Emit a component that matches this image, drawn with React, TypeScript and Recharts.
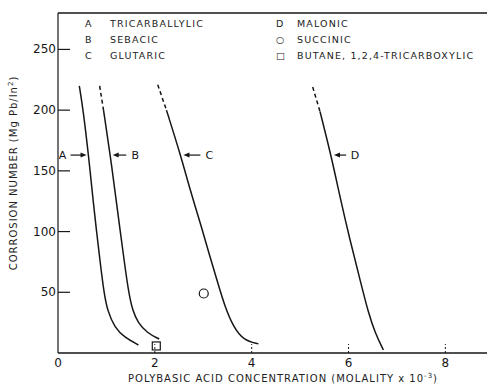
import React from "react";
import {
  ComposedChart,
  Line,
  Scatter,
  XAxis,
  YAxis,
  ReferenceLine,
} from "recharts";

// curve A – tricarballylic
const concA = [0.44, 0.52, 0.63, 0.74, 0.8, 0.87, 0.95, 1.02, 1.17, 1.37, 1.66];
const corrA = [220, 200, 163, 120, 99, 75, 49.5, 35, 21, 13, 6.6];
// curve B – sebacic
const concB = [0.86, 0.94, 1.08, 1.22, 1.29, 1.37, 1.46, 1.54, 1.65, 1.84, 2.09];
const corrB = [220, 200, 163, 120, 99, 75, 49.5, 35, 25, 16.5, 11.5];
// curve C – glutaric
const concC = [2.06, 2.24, 2.54, 2.73, 2.94, 3.14, 3.32, 3.45, 3.62, 3.83, 4.14];
const corrC = [221, 200, 162, 134, 107, 79, 55, 38, 21.7, 10.5, 7.5];
// curve D – malonic
const concD = [5.26, 5.41, 5.65, 5.82, 6.03, 6.24, 6.41, 6.55, 6.72];
const corrD = [219, 199, 161, 129, 93, 60, 33, 16.5, 2.5];

// single points
const succinic = [{ x: 3.01, y: 49 }];
const butane = [{ x: 2.03, y: 5.8 }];

const xTicks = [0, 2, 4, 6, 8];
const yTicks = [50, 100, 150, 200, 250];

// curve labels with arrows
const arrowLabels = ["A", "B", "C", "D"];
const arrowTip = [0.59, 1.13, 2.59, 5.7];
const arrowTail = [0.26, 1.41, 2.94, 5.95];
const arrowY = [163, 163, 163, 163];

const legendLeft = [
  ["A", "TRICARBALLYLIC"],
  ["B", "SEBACIC"],
  ["C", "GLUTARIC"],
];
const legendRight = [
  ["D", "MALONIC"],
  ["○", "SUCCINIC"],
  ["□", "BUTANE, 1,2,4-TRICARBOXYLIC"],
];

const INK = "#161616";
const FONT = "'DejaVu Sans', sans-serif";

const toPts = (xs: number[], ys: number[]) => xs.map((x, i) => ({ x, y: ys[i] }));

// first n points of a curve are drawn dashed
const split = (xs: number[], ys: number[], n: number) => {
  const pts = toPts(xs, ys);
  return { top: pts.slice(0, n), rest: pts.slice(n - 1) };
};

const A = split(concA, corrA, 1);
const B = split(concB, corrB, 2);
const C = split(concC, corrC, 2);
const D = split(concD, corrD, 2);

const XTick = (props: any) => {
  const { x, y, payload } = props;
  return (
    <g>
      {payload.value !== 0 && (
        <line x1={x} x2={x} y1={y} y2={y - 9} stroke={INK} strokeDasharray="2 2" strokeWidth={1} />
      )}
      <text x={x} y={y + 14} textAnchor="middle" fontSize={12} fill={INK} fontFamily={FONT}>
        {payload.value}
      </text>
    </g>
  );
};

const YTick = (props: any) => {
  const { x, y, payload } = props;
  return (
    <g>
      <line x1={x} x2={x + 12} y1={y} y2={y} stroke={INK} strokeWidth={1.2} />
      <text x={x - 2} y={y + 4} textAnchor="end" fontSize={12} fill={INK} fontFamily={FONT}>
        {payload.value}
      </text>
    </g>
  );
};

const Hollow = (props: any) => (
  <circle cx={props.cx} cy={props.cy} r={4.5} fill="none" stroke={INK} strokeWidth={1.2} />
);
const Box = (props: any) => (
  <rect x={props.cx - 4} y={props.cy - 4} width={8} height={8} fill="none" stroke={INK} strokeWidth={1.2} />
);

const arrowShape = (i: number) => (props: any) => {
  const { x1, y1, x2, y2 } = props;
  const dir = x2 > x1 ? 1 : -1;
  const label = arrowLabels[i];
  const labelX = i === 0 ? x1 - 8 : x1 + 9;
  return (
    <g>
      <line x1={x1} y1={y1} x2={x2 - dir * 4} y2={y2} stroke={INK} strokeWidth={1.2} />
      <path
        d={`M${x2},${y2} L${x2 - dir * 6},${y2 - 2.5} L${x2 - dir * 6},${y2 + 2.5} Z`}
        fill={INK}
      />
      <text x={labelX} y={y1 + 4} fontSize={11} textAnchor="middle" fill={INK} fontFamily={FONT}>
        {label}
      </text>
    </g>
  );
};

export default function App() {
  const lineProps = {
    dataKey: "y",
    stroke: INK,
    strokeWidth: 1.5,
    dot: false,
    activeDot: false,
    isAnimationActive: false,
    type: "basis" as const,
  };
  const legendStyle: React.CSSProperties = {
    position: "absolute",
    fontFamily: FONT,
    fontSize: 9.5,
    letterSpacing: 1.15,
    color: "#222",
    whiteSpace: "nowrap",
  };
  return (
    <div style={{ position: "absolute", left: 0, top: 0, width: 487, height: 387, background: "#fff" }}>
      <ComposedChart
        width={487}
        height={387}
        margin={{ top: 13, right: 0, bottom: 0, left: 0 }}
      >
        <XAxis
          type="number"
          dataKey="x"
          domain={[0, 8.86]}
          ticks={xTicks}
          tick={<XTick />}
          tickLine={false}
          tickSize={0}
          tickMargin={0}
          height={34}
          allowDataOverflow
          axisLine={{ stroke: INK, strokeWidth: 1.5 }}
        />
        <YAxis
          type="number"
          dataKey="y"
          domain={[0, 280]}
          ticks={yTicks}
          tick={<YTick />}
          tickLine={false}
          tickSize={0}
          tickMargin={0}
          width={58}
          allowDataOverflow
          axisLine={{ stroke: INK, strokeWidth: 1.2 }}
        />
        <ReferenceLine y={280} stroke={INK} strokeWidth={1.5} />
        <Line data={A.rest} {...lineProps} />
        <Line data={B.top} {...lineProps} type="linear" strokeDasharray="4 3" />
        <Line data={B.rest} {...lineProps} />
        <Line data={C.top} {...lineProps} type="linear" strokeDasharray="4 3" />
        <Line data={C.rest} {...lineProps} />
        <Line data={D.top} {...lineProps} type="linear" strokeDasharray="4 3" />
        <Line data={D.rest} {...lineProps} />
        <Scatter data={succinic} dataKey="y" shape={<Hollow />} isAnimationActive={false} />
        <Scatter data={butane} dataKey="y" shape={<Box />} isAnimationActive={false} />
        {arrowLabels.map((l, i) => (
          <ReferenceLine
            key={l}
            segment={[
              { x: arrowTail[i], y: arrowY[i] },
              { x: arrowTip[i], y: arrowY[i] },
            ]}
            shape={arrowShape(i)}
            stroke={INK}
          />
        ))}
      </ComposedChart>

      {legendLeft.map(([k, name], i) => (
        <React.Fragment key={k}>
          <div style={{ ...legendStyle, left: 85, top: 18 + i * 16 }}>{k}</div>
          <div style={{ ...legendStyle, left: 110, top: 18 + i * 16 }}>{name}</div>
        </React.Fragment>
      ))}
      {legendRight.map(([k, name], i) => (
        <React.Fragment key={name}>
          <div style={{ ...legendStyle, left: 276, top: 18 + i * 16 }}>{k}</div>
          <div style={{ ...legendStyle, left: 297, top: 18 + i * 16 }}>{name}</div>
        </React.Fragment>
      ))}

      <div
        style={{
          ...legendStyle,
          fontSize: 10,
          letterSpacing: 1,
          left: 13,
          top: 173,
          transform: "translate(-50%, -50%) rotate(-90deg)",
        }}
      >
        CORROSION NUMBER (Mg Pb/In<sup style={{ fontSize: 7 }}>2</sup>)
      </div>
      <div
        style={{
          ...legendStyle,
          fontSize: 10,
          letterSpacing: 1,
          left: 283,
          top: 378,
          transform: "translate(-50%, -50%)",
        }}
      >
        POLYBASIC ACID CONCENTRATION (MOLALITY x 10<sup style={{ fontSize: 7 }}>-3</sup>)
      </div>
    </div>
  );
}
